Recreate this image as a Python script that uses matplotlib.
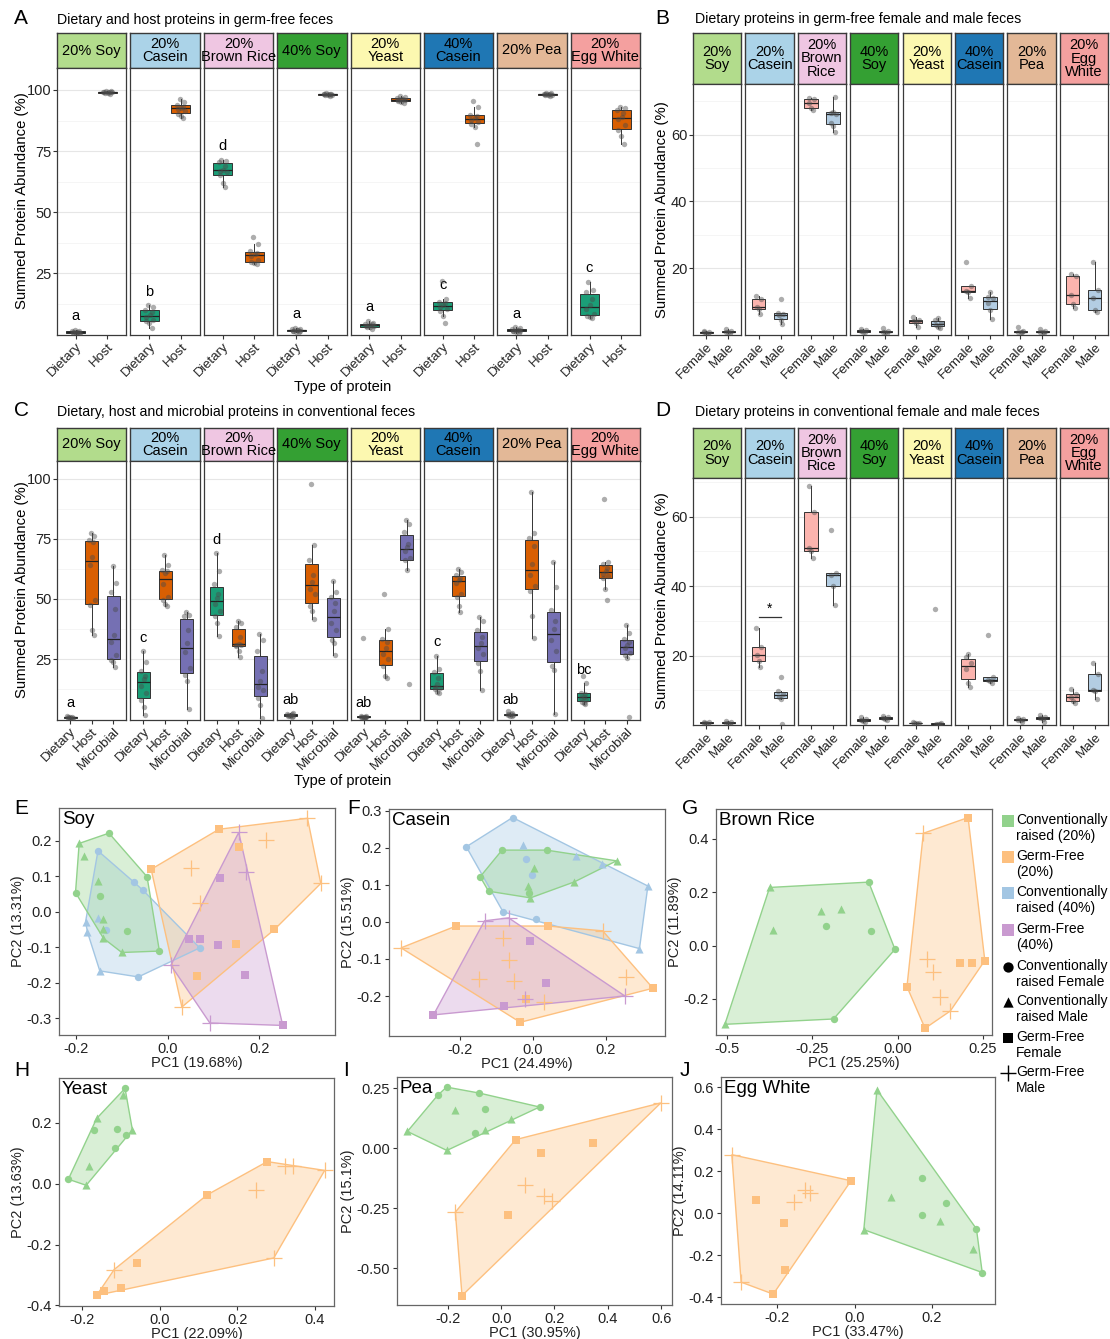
import numpy as np
import matplotlib.pyplot as plt
from matplotlib.patches import Polygon

plt.rcParams['font.family'] = ['Liberation Sans', 'DejaVu Sans']

W, H = 1110, 1339
fig = plt.figure(figsize=(W / 100, H / 100), dpi=100)

# ---------------- diets / facets ----------------
strip_wide = ["20% Soy", "20%\nCasein", "20%\nBrown Rice", "40% Soy",
              "20%\nYeast", "40%\nCasein", "20% Pea", "20%\nEgg White"]
strip_narrow = ["20%\nSoy", "20%\nCasein", "20%\nBrown\nRice", "40%\nSoy",
                "20%\nYeast", "40%\nCasein", "20%\nPea", "20%\nEgg\nWhite"]
strip_colors = ["#b2dc8c", "#abd3e8", "#efc6e2", "#34a033",
                "#fcf8b0", "#1f77b4", "#e3b897", "#f4a09f"]

# ---------------- A: germ-free, dietary vs host ----------------
gf_dietary = [
    [0.3, 0.5, 0.6, 0.7, 0.8, 0.9, 1.0, 1.2, 1.4, 1.8],
    [2.7, 4.5, 5.5, 6.0, 7.0, 7.8, 9.0, 10.0, 11.0, 11.9],
    [60.4, 62.0, 65.0, 66.5, 67.0, 67.4, 69.0, 70.5, 71.0, 71.4],
    [0.8, 1.0, 1.2, 1.3, 1.5, 1.6, 1.8, 2.0, 2.2, 2.6],
    [2.2, 2.8, 3.0, 3.2, 3.5, 3.8, 4.0, 4.4, 4.8, 5.5],
    [4.8, 7.5, 9.6, 10.3, 11.2, 11.8, 12.6, 13.2, 14.5, 21.9],
    [0.7, 1.0, 1.2, 1.3, 1.5, 1.7, 1.9, 2.2, 2.5, 3.0],
    [6.8, 7.0, 7.6, 8.5, 10.5, 11.9, 14.5, 17.2, 18.0, 21.6],
]
gf_host = [
    [98.3, 98.7, 98.9, 99.0, 99.0, 99.1, 99.2, 99.3, 99.4, 99.5],
    [88.5, 89.5, 90.2, 91.5, 92.3, 92.8, 93.2, 93.8, 95.0, 96.5],
    [28.6, 29.0, 29.5, 30.5, 32.0, 32.8, 33.2, 34.0, 37.0, 39.9],
    [97.6, 97.9, 98.0, 98.1, 98.2, 98.2, 98.3, 98.4, 98.5, 98.8],
    [94.5, 95.0, 95.3, 95.8, 96.0, 96.2, 96.5, 96.8, 97.2, 97.6],
    [78.0, 85.0, 86.2, 86.8, 87.8, 88.6, 89.2, 89.8, 93.2, 95.3],
    [97.5, 97.8, 98.0, 98.1, 98.2, 98.2, 98.3, 98.4, 98.6, 98.9],
    [78.0, 81.0, 83.5, 85.5, 88.0, 89.0, 90.5, 92.0, 92.5, 93.0],
]
gf_letters = ["a", "b", "d", "a", "a", "c", "a", "c"]

# ---------------- B: germ-free dietary by sex ----------------
gf_female = [
    [0.4, 0.6, 0.8, 1.0, 1.2],
    [6.4, 7.9, 8.5, 10.8, 11.8],
    [67.3, 67.9, 69.6, 70.6, 70.9],
    [0.9, 1.0, 1.2, 1.4, 1.7],
    [2.3, 3.6, 4.2, 4.6, 5.5],
    [11.0, 12.8, 13.3, 14.8, 21.9],
    [0.8, 0.9, 1.0, 1.1, 2.4],
    [8.0, 9.3, 12.0, 17.6, 18.3],
]
gf_male = [
    [0.5, 0.8, 1.0, 1.3, 1.8],
    [3.2, 4.5, 6.0, 6.2, 6.7, 10.9],
    [60.7, 62.7, 63.5, 66.1, 66.6, 66.8, 71.4],
    [0.7, 0.9, 1.0, 1.1, 2.2],
    [2.2, 2.4, 3.0, 3.6, 4.4, 5.0],
    [4.8, 7.4, 9.5, 11.0, 11.5, 13.0],
    [0.7, 0.9, 1.0, 1.1, 1.8],
    [7.0, 7.4, 11.0, 13.5, 22.0],
]

# ---------------- C: conventional, dietary / host / microbial ----------------
cv_dietary = [
    [0.3, 0.5, 0.6, 0.7, 0.8, 0.9, 1.0, 1.2],
    [1.6, 5.0, 8.0, 11.0, 14.0, 16.6, 18.0, 20.0, 24.0, 28.4],
    [34.6, 40.0, 43.0, 45.0, 48.0, 50.2, 52.0, 56.0, 61.5, 69.1],
    [0.8, 1.2, 1.4, 1.5, 1.6, 1.8, 2.0, 2.2, 2.5],
    [0.5, 0.7, 0.8, 0.9, 1.0, 1.0, 1.1, 1.2, 1.3, 33.8],
    [10.8, 11.5, 12.5, 13.0, 13.5, 14.5, 17.0, 19.8, 21.0, 26.4],
    [1.2, 1.5, 1.8, 1.9, 2.0, 2.2, 2.5, 3.5],
    [6.2, 6.8, 7.3, 8.0, 8.8, 9.4, 10.3, 11.0, 14.9, 18.1],
]
cv_host = [
    [34.9, 37.0, 47.5, 49.5, 64.0, 67.4, 73.5, 74.4, 76.0, 77.4],
    [46.9, 48.0, 49.5, 50.7, 56.0, 60.8, 61.5, 61.9, 64.0, 68.4],
    [26.0, 28.5, 30.3, 31.0, 31.0, 31.2, 34.0, 38.5, 40.0, 40.7],
    [41.8, 45.0, 47.0, 52.0, 54.0, 57.2, 60.0, 66.0, 72.6, 97.9],
    [17.0, 18.0, 22.0, 25.0, 27.0, 29.8, 32.0, 33.2, 37.7, 52.2],
    [44.6, 47.0, 51.0, 52.0, 56.6, 58.0, 58.8, 60.0, 61.0, 62.5],
    [33.8, 43.0, 53.5, 55.5, 60.0, 64.4, 72.0, 75.5, 77.5, 94.6],
    [49.4, 54.2, 58.5, 59.5, 60.5, 61.7, 63.0, 64.5, 65.3, 91.7],
]
cv_microbial = [
    [21.8, 24.0, 24.5, 26.5, 32.0, 35.0, 46.0, 53.0, 56.5, 63.5],
    [4.3, 16.0, 18.5, 21.5, 28.0, 31.6, 37.0, 43.0, 43.5, 44.6],
    [0.5, 6.0, 9.0, 12.0, 13.5, 15.9, 20.0, 28.5, 33.0, 35.6],
    [26.6, 31.5, 33.0, 37.0, 40.0, 45.0, 48.5, 51.0, 53.0, 57.3],
    [14.7, 62.2, 66.0, 67.0, 70.0, 71.6, 73.0, 78.0, 81.0, 82.8],
    [12.2, 20.0, 23.5, 27.0, 29.5, 31.5, 34.0, 37.0, 41.0, 42.5],
    [2.1, 20.5, 22.0, 28.5, 33.0, 37.6, 41.0, 45.5, 55.0, 65.3],
    [1.1, 25.5, 26.8, 27.5, 29.5, 30.7, 32.0, 33.2, 36.0, 39.1],
]
cv_letters = ["a", "c", "d", "ab", "ab", "c", "ab", "bc"]

# ---------------- D: conventional dietary by sex ----------------
cv_female = [
    [0.3, 0.5, 0.6, 0.8, 1.0],
    [16.6, 18.5, 20.2, 22.4, 28.0],
    [48.0, 50.0, 51.0, 61.3, 68.9],
    [0.9, 1.2, 1.5, 1.8, 2.3],
    [0.3, 0.5, 0.6, 0.7, 0.8],
    [11.0, 12.2, 16.0, 17.8, 19.5, 20.5],
    [1.0, 1.3, 1.5, 1.7, 2.1],
    [6.2, 6.9, 8.1, 8.8, 10.4],
]
cv_male = [
    [0.4, 0.6, 0.7, 0.8, 1.1],
    [0.3, 7.6, 8.2, 8.8, 9.9, 13.7],
    [34.5, 40.0, 43.3, 43.8, 56.0],
    [1.5, 1.8, 2.0, 2.2, 2.6],
    [0.2, 0.3, 0.4, 0.5, 33.5],
    [12.0, 12.6, 13.0, 13.7, 25.9],
    [1.0, 1.6, 2.0, 2.4, 3.0],
    [7.4, 9.7, 10.0, 14.8, 17.8],
]
sig_facet = 1      # 20% Casein
sig_level = 31.0

# ---------------- PCA scores (E-J) ----------------
soy_cr20_pc1 = [-0.193, -0.128, -0.183, -0.045, -0.201, -0.153, -0.147, -0.141, -0.142, -0.089, -0.100, -0.018, -0.140]
soy_cr20_pc2 = [0.193, 0.222, 0.158, 0.099, 0.054, 0.088, 0.044, -0.021, -0.050, -0.053, -0.115, -0.111, -0.075]
soy_cr20_sex = "MFMFFMFMMFMFM"
soy_gf20_pc1 = [-0.036, 0.112, 0.214, 0.305, 0.156, 0.051, 0.070, 0.233, 0.148, 0.065, 0.031, 0.334]
soy_gf20_pc2 = [0.120, 0.233, 0.203, 0.264, 0.184, 0.123, 0.025, -0.050, -0.092, -0.181, -0.269, 0.080]
soy_gf20_sex = "FFMMFMMFFFMM"
soy_cr40_pc1 = [-0.152, -0.073, -0.054, -0.135, 0.070, -0.064, -0.179, -0.175, -0.148, -0.152]
soy_cr40_pc2 = [0.172, 0.083, 0.061, -0.052, -0.102, -0.184, -0.028, -0.057, -0.167, -0.017]
soy_cr40_sex = "FFFFFFMMMM"
soy_gf40_pc1 = [0.155, 0.170, 0.114, 0.047, 0.070, 0.110, 0.007, 0.092, 0.251, 0.168]
soy_gf40_pc2 = [0.224, 0.111, 0.094, -0.078, -0.078, -0.094, -0.151, -0.314, -0.321, -0.179]
soy_gf40_sex = "MMFFFFMMFF"

cas_cr20_pc1 = [-0.085, 0.037, 0.229, 0.113, -0.145, -0.122, 0.002, -0.014, -0.012, -0.007]
cas_cr20_pc2 = [0.194, 0.194, 0.165, 0.108, 0.122, 0.083, 0.146, 0.097, 0.079, 0.065]
cas_cr20_sex = "FFMMFFMMFM"
cas_gf20_pc1 = [-0.211, 0.040, -0.362, 0.191, 0.254, 0.329, -0.035, -0.083, -0.067, -0.149, -0.053, -0.019, 0.031]
cas_gf20_pc2 = [-0.011, -0.011, -0.070, -0.024, -0.149, -0.179, -0.271, -0.043, -0.102, -0.153, -0.160, -0.209, -0.217]
cas_gf20_sex = "FFMMMFFMMMMFM"
cas_cr40_pc1 = [-0.056, -0.183, 0.315, 0.292, -0.082, 0.008, -0.018, -0.003, -0.028, 0.119, 0.189]
cas_cr40_pc2 = [0.282, 0.203, 0.097, -0.072, 0.027, 0.007, 0.169, 0.126, 0.208, 0.179, 0.156]
cas_cr40_sex = "FFMMFFFFMMM"
cas_gf40_pc1 = [-0.133, -0.067, -0.273, 0.252, -0.007, 0.036, -0.079, -0.021]
cas_gf40_pc2 = [0.003, 0.011, -0.251, -0.200, -0.051, -0.164, -0.226, -0.209]
cas_gf40_sex = "MMFMFFFM"

rice_cr20_pc1 = [-0.375, -0.085, -0.008, -0.188, -0.506, -0.226, -0.166, -0.365, -0.211, -0.078]
rice_cr20_pc2 = [0.218, 0.238, -0.014, -0.275, -0.295, 0.128, 0.136, 0.059, 0.075, 0.056]
rice_cr20_sex = "MFFFMMMMFF"
rice_gf20_pc1 = [0.075, 0.206, 0.255, 0.080, 0.027, 0.182, 0.217, 0.085, 0.102, 0.124, 0.154]
rice_gf20_pc2 = [0.421, 0.480, -0.056, -0.310, -0.154, -0.066, -0.066, -0.050, -0.100, -0.194, -0.245]
rice_gf20_sex = "MFFFFFFMMMM"

yeast_cr20_pc1 = [-0.089, -0.093, -0.162, -0.169, -0.109, -0.087, -0.070, -0.116, -0.182, -0.235, -0.189]
yeast_cr20_pc2 = [0.314, 0.292, 0.215, 0.177, 0.180, 0.161, 0.177, 0.117, 0.060, 0.015, -0.005]
yeast_cr20_sex = "FMMFFFMFMFM"
yeast_gf20_pc1 = [0.277, 0.324, 0.343, 0.425, 0.123, 0.249, 0.294, -0.059, -0.117, -0.100, -0.143, -0.162]
yeast_gf20_pc2 = [0.073, 0.057, 0.060, 0.044, -0.036, -0.020, -0.244, -0.260, -0.282, -0.342, -0.353, -0.367]
yeast_gf20_sex = "FMMMFMMFMFFF"

pea_cr20_pc1 = [-0.205, -0.239, -0.082, 0.144, -0.172, -0.059, 0.035, -0.352, -0.060, -0.098, -0.204]
pea_cr20_pc2 = [0.254, 0.219, 0.229, 0.171, 0.160, 0.164, 0.121, 0.069, 0.076, 0.063, -0.010]
pea_cr20_sex = "FFFFMFMMMFM"
pea_gf20_pc1 = [0.599, 0.054, 0.343, 0.148, 0.090, 0.160, 0.191, -0.172, 0.025, -0.147]
pea_gf20_pc2 = [0.188, 0.035, 0.021, -0.021, -0.156, -0.199, -0.222, -0.267, -0.278, -0.615]
pea_gf20_sex = "MFFFMMMMFF"

egg_cr20_pc1 = [0.058, 0.024, 0.330, 0.315, 0.306, 0.174, 0.094, 0.236, 0.174, 0.221]
egg_cr20_pc2 = [0.587, -0.079, -0.283, -0.075, -0.170, 0.167, 0.075, 0.048, -0.008, -0.037]
egg_cr20_sex = "MMFFMFMFFM"
egg_gf20_pc1 = [-0.317, -0.009, -0.210, -0.293, -0.254, -0.156, -0.128, -0.116, -0.182, -0.180]
egg_gf20_pc2 = [0.278, 0.154, -0.386, -0.329, 0.063, 0.051, 0.111, 0.095, -0.048, -0.273]
egg_gf20_sex = "MFFMFMMMFF"

col_cr20 = "#92d28c"
col_gf20 = "#fdc07f"
col_cr40 = "#a3c6e3"
col_gf40 = "#c99ad0"

EDGE = "#3a3a3a"


def add_px(x0, y0, x1, y1):
    return fig.add_axes([x0 / W, 1 - y1 / H, (x1 - x0) / W, (y1 - y0) / H])


def jitter(n, width=0.13):
    return width * np.sin(np.arange(n) * 2.39996 + 0.7)


def box_panel(left, right, y_strip, y_top, y_bot, groups, fills, xlabels,
              strips, ylim, yticks, minor, letters=None):
    n = len(strips)
    gap = 4
    w = (right - left - gap * (n - 1)) / n
    k = len(groups)
    axes = []
    for i in range(n):
        x0 = left + i * (w + gap)
        sax = add_px(x0, y_strip, x0 + w, y_top)
        sax.set_facecolor(strip_colors[i])
        sax.set_xticks([])
        sax.set_yticks([])
        for s in sax.spines.values():
            s.set_color(EDGE)
            s.set_linewidth(1.0)
        sax.text(0.5, 0.5, strips[i], ha='center', va='center', fontsize=10.5,
                 linespacing=0.95, transform=sax.transAxes)

        ax = add_px(x0, y_top, x0 + w, y_bot)
        for j in range(k):
            vals = np.asarray(groups[j][i], dtype=float)
            bp = ax.boxplot(vals, positions=[j + 1], widths=0.6, patch_artist=True,
                            showfliers=False, showcaps=False, whis=1.5,
                            boxprops=dict(facecolor=fills[j], edgecolor='#333333', linewidth=0.7),
                            medianprops=dict(color='#222222', linewidth=0.9),
                            whiskerprops=dict(color='#333333', linewidth=0.7))
            ax.scatter(j + 1 + jitter(len(vals)), vals, s=15, color='#4a4a4a',
                       alpha=0.45, linewidths=0, zorder=4)
            if letters is not None and j == 0:
                top = bp['whiskers'][1].get_ydata()[1]
                ax.text(1, top + 5.5, letters[i], ha='center', va='center', fontsize=10.5)
        ax.set_xlim(0.4, k + 0.6)
        ax.set_ylim(*ylim)
        ax.set_yticks(yticks)
        ax.set_yticks(minor, minor=True)
        ax.grid(axis='y', which='major', color='#e6e6e6', lw=0.8)
        ax.grid(axis='y', which='minor', color='#f2f2f2', lw=0.5)
        ax.set_axisbelow(True)
        ax.set_xticks(range(1, k + 1))
        ax.set_xticklabels(xlabels, rotation=45, ha='right', rotation_mode='anchor',
                           fontsize=9.7, color='#222222')
        ax.tick_params(axis='x', length=3, color='#333333', pad=1)
        ax.tick_params(axis='y', which='major', length=3, color='#333333',
                       labelsize=10.5, labelcolor='#222222', pad=1,
                       left=(i == 0), labelleft=(i == 0))
        ax.tick_params(axis='y', which='minor', length=0)
        for s in ax.spines.values():
            s.set_color(EDGE)
            s.set_linewidth(0.9)
        axes.append(ax)
    return axes


def convex_hull(x, y):
    pts = sorted(zip(x, y))

    def cross(o, a, b):
        return (a[0] - o[0]) * (b[1] - o[1]) - (a[1] - o[1]) * (b[0] - o[0])

    lower, upper = [], []
    for p in pts:
        while len(lower) >= 2 and cross(lower[-2], lower[-1], p) <= 0:
            lower.pop()
        lower.append(p)
    for p in reversed(pts):
        while len(upper) >= 2 and cross(upper[-2], upper[-1], p) <= 0:
            upper.pop()
        upper.append(p)
    return np.array(lower[:-1] + upper[:-1])


def pca_panel(rect, name, groups, xlim, ylim, xticks, xtl, yticks, ytl, xlab, ylab):
    ax = add_px(*rect)
    for pc1, pc2, sex, color, kind in groups:
        hull = convex_hull(pc1, pc2)
        ax.add_patch(Polygon(hull, closed=True, facecolor=color, alpha=0.35,
                             edgecolor='none', zorder=1))
        ax.add_patch(Polygon(hull, closed=True, fill=False, edgecolor=color,
                             lw=1.0, zorder=2))
    for pc1, pc2, sex, color, kind in groups:
        pc1 = np.asarray(pc1)
        pc2 = np.asarray(pc2)
        fem = np.array([c == 'F' for c in sex])
        if kind == 'cr':
            ax.scatter(pc1[fem], pc2[fem], marker='o', s=28, color=color, lw=0, zorder=3)
            ax.scatter(pc1[~fem], pc2[~fem], marker='^', s=34, color=color, lw=0, zorder=3)
        else:
            ax.scatter(pc1[fem], pc2[fem], marker='s', s=26, color=color, lw=0, zorder=3)
            ax.scatter(pc1[~fem], pc2[~fem], marker='+', s=120, color=color, lw=0.9, zorder=3)
    ax.set_xlim(*xlim)
    ax.set_ylim(*ylim)
    ax.set_xticks(xticks)
    ax.set_xticklabels(xtl)
    ax.set_yticks(yticks)
    ax.set_yticklabels(ytl)
    ax.tick_params(length=3, color='#333333', labelsize=10.5, labelcolor='#222222', pad=2)
    for s in ax.spines.values():
        s.set_color('#666666')
        s.set_linewidth(0.9)
    ax.set_xlabel(xlab, fontsize=10.5, labelpad=0, color='#222222')
    ax.set_ylabel(ylab, fontsize=10.5, labelpad=1, color='#222222')
    ax.text(0.01, 0.985, name, transform=ax.transAxes, ha='left', va='top', fontsize=13.5)
    return ax


# ---------------- box panels ----------------
dark_fill = ["#1b9e77", "#d95f02", "#7570b3"]
sex_fill = ["#fbb4ae", "#b3cde3"]

box_panel(57, 640, 33, 68, 335, [gf_dietary, gf_host], dark_fill[:2],
          ["Dietary", "Host"], strip_wide, (-0.3, 109), [25, 50, 75, 100],
          [12.5, 37.5, 62.5, 87.5], letters=gf_letters)
box_panel(693, 1108, 33, 84, 335, [gf_female, gf_male], sex_fill,
          ["Female", "Male"], strip_narrow, (0.0, 75.2), [20, 40, 60],
          [10, 30, 50, 70])
box_panel(57, 640, 428, 461, 720, [cv_dietary, cv_host, cv_microbial], dark_fill,
          ["Dietary", "Host", "Microbial"], strip_wide, (-0.3, 107.3),
          [25, 50, 75, 100], [12.5, 37.5, 62.5, 87.5], letters=cv_letters)
d_axes = box_panel(693, 1108, 428, 478, 725, [cv_female, cv_male], sex_fill,
                   ["Female", "Male"], strip_narrow, (0.0, 71.1), [20, 40, 60],
                   [10, 30, 50, 70])
d_axes[sig_facet].plot([1, 2], [sig_level, sig_level], color='#333333', lw=0.9)
d_axes[sig_facet].text(1.5, sig_level + 0.3, "*", ha='center', va='bottom', fontsize=10)

# ---------------- PCA panels ----------------
pca_panel((59, 808, 335, 1035), "Soy",
          [(soy_cr40_pc1, soy_cr40_pc2, soy_cr40_sex, col_cr40, 'cr'),
           (soy_cr20_pc1, soy_cr20_pc2, soy_cr20_sex, col_cr20, 'cr'),
           (soy_gf20_pc1, soy_gf20_pc2, soy_gf20_sex, col_gf20, 'gf'),
           (soy_gf40_pc1, soy_gf40_pc2, soy_gf40_sex, col_gf40, 'gf')],
          (-0.237, 0.365), (-0.348, 0.293), [-0.2, 0.0, 0.2], ["-0.2", "0.0", "0.2"],
          [-0.3, -0.2, -0.1, 0.0, 0.1, 0.2], ["-0.3", "-0.2", "-0.1", "0.0", "0.1", "0.2"],
          "PC1 (19.68%)", "PC2 (13.31%)")
pca_panel((389, 809, 665, 1036), "Casein",
          [(cas_cr40_pc1, cas_cr40_pc2, cas_cr40_sex, col_cr40, 'cr'),
           (cas_cr20_pc1, cas_cr20_pc2, cas_cr20_sex, col_cr20, 'cr'),
           (cas_gf20_pc1, cas_gf20_pc2, cas_gf20_sex, col_gf20, 'gf'),
           (cas_gf40_pc1, cas_gf40_pc2, cas_gf40_sex, col_gf40, 'gf')],
          (-0.395, 0.362), (-0.308, 0.305), [-0.2, 0.0, 0.2], ["-0.2", "0.0", "0.2"],
          [-0.2, -0.1, 0.0, 0.1, 0.2, 0.3], ["-0.2", "-0.1", "0.0", "0.1", "0.2", "0.3"],
          "PC1 (24.49%)", "PC2 (15.51%)")
pca_panel((716, 809, 992, 1035), "Brown Rice",
          [(rice_cr20_pc1, rice_cr20_pc2, rice_cr20_sex, col_cr20, 'cr'),
           (rice_gf20_pc1, rice_gf20_pc2, rice_gf20_sex, col_gf20, 'gf')],
          (-0.532, 0.276), (-0.335, 0.512), [-0.5, -0.25, 0.0, 0.25],
          ["-0.5", "-0.25", "0.00", "0.25"],
          [-0.2, 0.0, 0.2, 0.4], ["-0.2", "0.0", "0.2", "0.4"],
          "PC1 (25.25%)", "PC2 (11.89%)")
pca_panel((59, 1078, 334, 1306), "Yeast",
          [(yeast_cr20_pc1, yeast_cr20_pc2, yeast_cr20_sex, col_cr20, 'cr'),
           (yeast_gf20_pc1, yeast_gf20_pc2, yeast_gf20_sex, col_gf20, 'gf')],
          (-0.259, 0.449), (-0.402, 0.348), [-0.2, 0.0, 0.2, 0.4],
          ["-0.2", "0.0", "0.2", "0.4"],
          [-0.4, -0.2, 0.0, 0.2], ["-0.4", "-0.2", "0.0", "0.2"],
          "PC1 (22.09%)", "PC2 (13.63%)")
pca_panel((397, 1077, 672, 1305), "Pea",
          [(pea_cr20_pc1, pea_cr20_pc2, pea_cr20_sex, col_cr20, 'cr'),
           (pea_gf20_pc1, pea_gf20_pc2, pea_gf20_sex, col_gf20, 'gf')],
          (-0.391, 0.641), (-0.654, 0.296), [-0.2, 0.0, 0.2, 0.4, 0.6],
          ["-0.2", "0.0", "0.2", "0.4", "0.6"],
          [-0.5, -0.25, 0.0, 0.25], ["-0.50", "-0.25", "0.00", "0.25"],
          "PC1 (30.95%)", "PC2 (15.1%)")
pca_panel((721, 1077, 995, 1304), "Egg White",
          [(egg_gf20_pc1, egg_gf20_pc2, egg_gf20_sex, col_gf20, 'gf'),
           (egg_cr20_pc1, egg_cr20_pc2, egg_cr20_sex, col_cr20, 'cr')],
          (-0.345, 0.363), (-0.433, 0.648), [-0.2, 0.0, 0.2], ["-0.2", "0.0", "0.2"],
          [-0.4, -0.2, 0.0, 0.2, 0.4, 0.6], ["-0.4", "-0.2", "0.0", "0.2", "0.4", "0.6"],
          "PC1 (33.47%)", "PC2 (14.11%)")

# ---------------- labels, titles, legend (pixel overlay) ----------------
ov = fig.add_axes([0, 0, 1, 1])
ov.set_xlim(0, W)
ov.set_ylim(H, 0)
ov.axis('off')

for lab, x, y in [("A", 14, 18), ("B", 655, 18), ("C", 14, 411), ("D", 655, 411),
                  ("E", 14, 808), ("F", 347, 808), ("G", 682, 808),
                  ("H", 14, 1070), ("I", 343, 1070), ("J", 680, 1070)]:
    ov.text(x, y, lab, fontsize=15, ha='left', va='center')

ov.text(57, 20, "Dietary and host proteins in germ-free feces", fontsize=10.2, va='center')
ov.text(695, 19, "Dietary proteins in germ-free female and male feces", fontsize=10.2, va='center')
ov.text(57, 412, "Dietary, host and microbial proteins in conventional feces", fontsize=10.2, va='center')
ov.text(695, 412, "Dietary proteins in conventional female and male feces", fontsize=10.2, va='center')

ov.text(343, 387, "Type of protein", fontsize=10.5, ha='center', va='center')
ov.text(343, 781, "Type of protein", fontsize=10.5, ha='center', va='center')
for x, y in [(22, 201), (662, 210), (22, 590), (662, 601)]:
    ov.text(x, y, "Summed Protein Abundance (%)", fontsize=10.7, rotation=90,
            ha='center', va='center')

legend_fill = [(col_cr20, "Conventionally\nraised (20%)"),
               (col_gf20, "Germ-Free\n(20%)"),
               (col_cr40, "Conventionally\nraised (40%)"),
               (col_gf40, "Germ-Free\n(40%)")]
legend_shape = [('o', "Conventionally\nraised Female"),
                ('^', "Conventionally\nraised Male"),
                ('s', "Germ-Free\nFemale"),
                ('+', "Germ-Free\nMale")]
row_y = [821, 857, 893, 930, 967, 1002, 1038, 1073]
for (c, txt), y in zip(legend_fill, row_y[:4]):
    ov.scatter([1008], [y], marker='s', s=80, color=c, lw=0)
    ov.text(1016, y - 8, txt, fontsize=10, va='top', linespacing=1.15)
for (m, txt), y in zip(legend_shape, row_y[4:]):
    if m == '+':
        ov.scatter([1008], [y], marker=m, s=140, color='black', lw=1.0)
    else:
        ov.scatter([1008], [y], marker=m, s=55, color='black', lw=0)
    ov.text(1016, y - 8, txt, fontsize=10, va='top', linespacing=1.15)

fig.savefig("out.png", dpi=100)
